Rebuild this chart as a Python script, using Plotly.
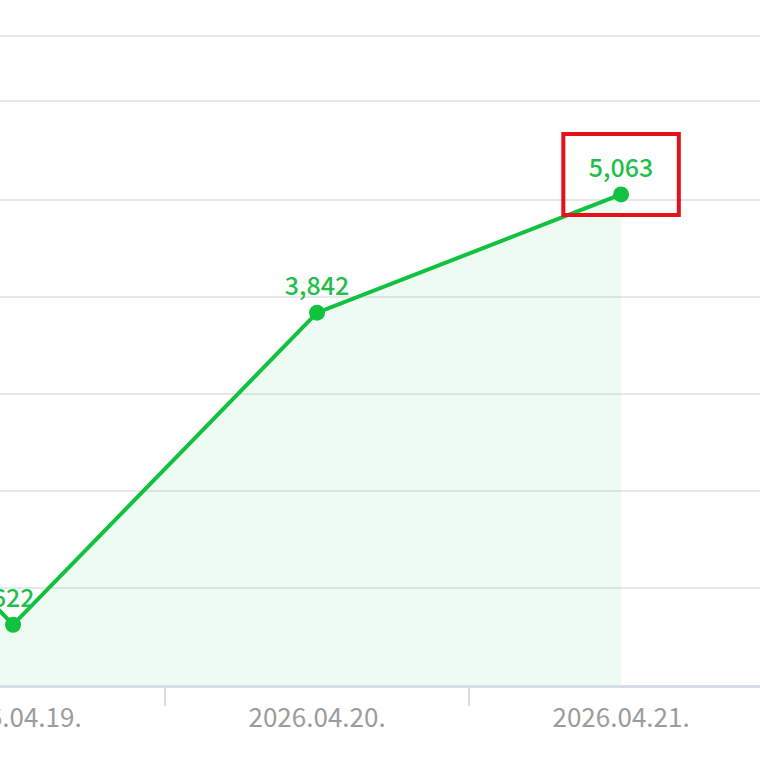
import plotly.graph_objects as go

categories = ["2026.04.18.", "2026.04.19.", "2026.04.20.", "2026.04.21."]
values = [3900, 622, 3842, 5063]
labels = ["", "622", "3,842", "5,063"]
grid_vals = [0, 1000, 2000, 3000, 4000, 5000, 6030, 6700]

green = "#12c140"

fig = go.Figure()
fig.add_trace(go.Scatter(
    x=categories, y=values,
    mode="lines+markers+text",
    line=dict(color=green, width=4),
    marker=dict(color=green, size=16),
    fill="tozeroy", fillcolor="rgba(20,200,70,0.07)",
    text=labels, textposition="top center",
    textfont=dict(family="Noto Sans CJK KR", size=25, color="#1fbf4c", weight=500),
    cliponaxis=False, hoverinfo="skip",
))

# highlight box around the last value
fig.add_shape(type="rect", xref="x", yref="y",
              x0=3 - 0.19, x1=3 + 0.19, y0=4850, y1=5686,
              line=dict(color="#e5121a", width=4))

fig.update_layout(
    width=760, height=760,
    margin=dict(l=0, r=0, t=0, b=75, autoexpand=False),
    paper_bgcolor="white", plot_bgcolor="white",
    showlegend=False,
    font=dict(family="Noto Sans CJK KR"),
)
fig.update_xaxes(
    type="category", range=[0.957, 3.457], automargin=False,
    tickson="boundaries", ticks="outside", ticklen=18, tickwidth=2,
    tickcolor="#d6dce8", showgrid=False, ticklabelstandoff=8,
    showline=True, linecolor="#d6dce8", linewidth=2.5,
    tickfont=dict(family="Noto Sans CJK KR", size=26, color="#9c9c9c"),
)
fig.update_yaxes(
    range=[0, 7069], tickvals=grid_vals, showticklabels=False, automargin=False,
    showgrid=True, gridcolor="#e8e8e8", gridwidth=2, zeroline=False,
)

fig.write_html("out.html", config={"displayModeBar": False, "staticPlot": True},
               post_script="document.body.style.margin='0';document.body.style.overflow='hidden';")
